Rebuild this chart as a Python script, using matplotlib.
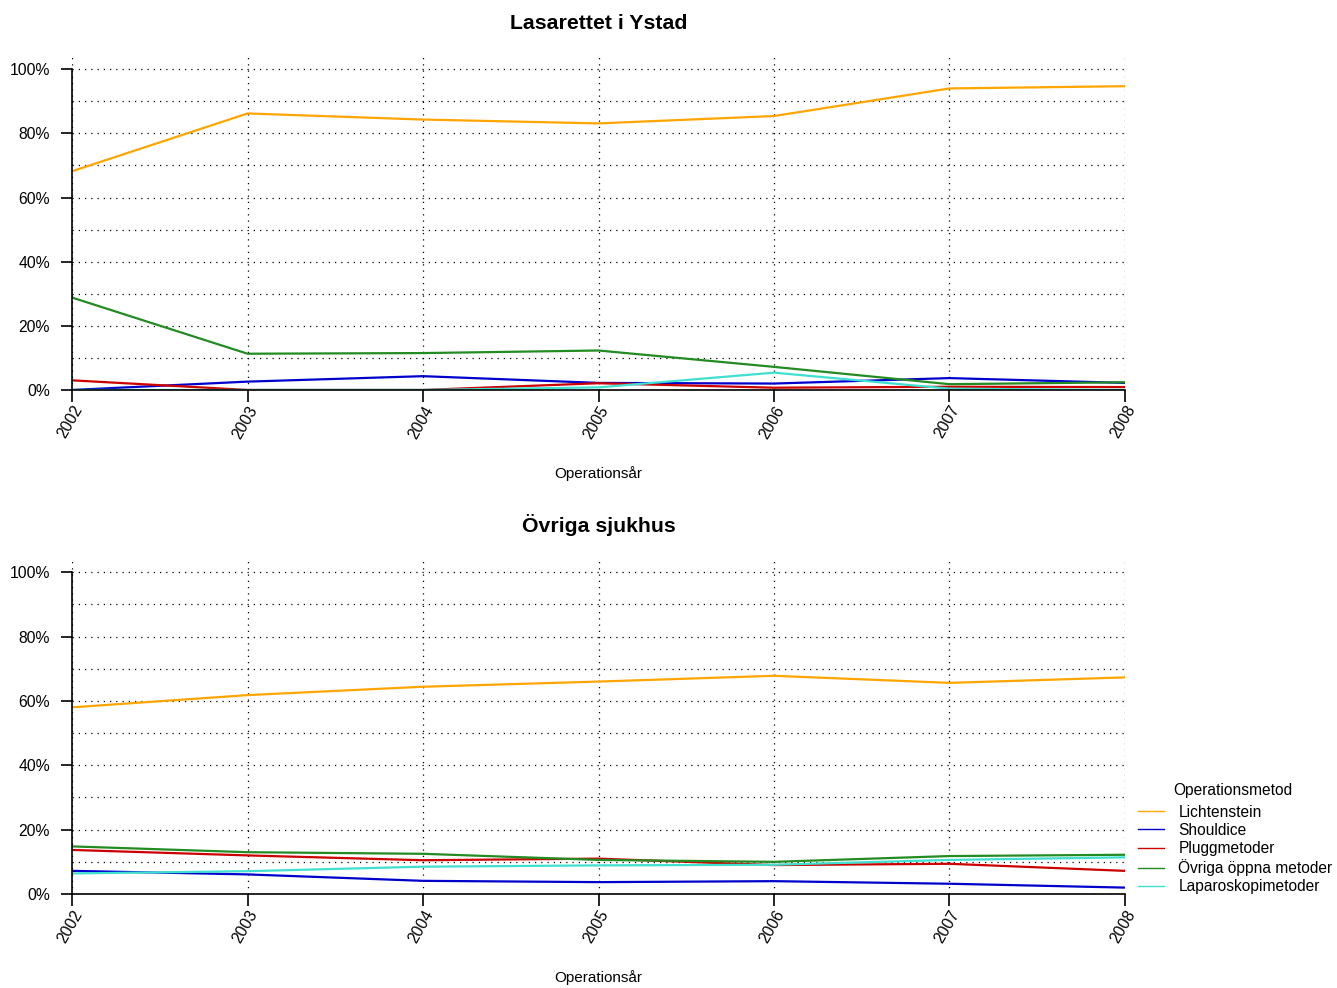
import matplotlib
matplotlib.use('Agg')
import matplotlib.pyplot as plt
from matplotlib.lines import Line2D

# data (percent)
years = [2002, 2003, 2004, 2005, 2006, 2007, 2008]
methods = ['Lichtenstein', 'Shouldice', 'Pluggmetoder', 'Övriga öppna metoder', 'Laparoskopimetoder']
colors = ['#FFA500', '#0000CD', '#CD0000', '#228B22', '#40E0D0']

ystad_lichtenstein = [68.2, 86.2, 84.3, 83.1, 85.4, 94.0, 94.7]
ystad_shouldice = [0.0, 2.6, 4.3, 2.2, 2.0, 3.7, 2.2]
ystad_plugg = [3.0, 0.0, 0.0, 2.1, 0.7, 1.0, 0.9]
ystad_ovriga = [28.8, 11.3, 11.5, 12.3, 7.2, 1.8, 2.4]
ystad_laparo = [0.0, 0.0, 0.0, 0.8, 5.4, 0.4, 0.0]

other_lichtenstein = [58.0, 61.8, 64.4, 66.0, 67.8, 65.6, 67.3]
other_shouldice = [7.2, 6.1, 4.1, 3.7, 4.0, 3.2, 2.0]
other_plugg = [13.7, 12.0, 10.5, 11.0, 9.0, 9.4, 7.2]
other_ovriga = [14.8, 13.0, 12.5, 10.6, 10.0, 11.8, 12.2]
other_laparo = [6.4, 7.1, 8.5, 8.9, 9.1, 10.6, 11.4]

panels = [
    ('Lasarettet i Ystad', [ystad_lichtenstein, ystad_shouldice, ystad_plugg, ystad_ovriga, ystad_laparo]),
    ('Övriga sjukhus', [other_lichtenstein, other_shouldice, other_plugg, other_ovriga, other_laparo]),
]

plt.rcParams['font.family'] = ['Liberation Sans', 'DejaVu Sans']

fig = plt.figure(figsize=(13.37, 9.88), dpi=100)
rects = [[0.0539, 0.6053, 0.7875, 0.3370], [0.0539, 0.0951, 0.7875, 0.3382]]

for rect, (title, series) in zip(rects, panels):
    ax = fig.add_axes(rect)
    # grid first so the lines sit on top
    for v in range(0, 101, 10):
        ax.axhline(v, color='black', lw=0.9, ls=(0, (1, 4)), zorder=1)
    for yr in years:
        ax.axvline(yr, color='black', lw=0.9, ls=(0, (1, 4)), zorder=1)
    for vals, c in zip(series, colors):
        ax.plot(years, vals, color=c, lw=1.6, zorder=2)

    ax.set_xlim(2002, 2008)
    ax.set_ylim(0, 103.8)
    ax.set_yticks([0, 20, 40, 60, 80, 100])
    ax.set_yticklabels(['0%', '20%', '40%', '60%', '80%', '100%'], fontsize=11.3)
    ax.set_xticks(years)
    ax.set_xticklabels([str(y) for y in years], fontsize=11.3, rotation=60,
                       ha='right', va='top', rotation_mode='anchor')
    for s in ['top', 'right']:
        ax.spines[s].set_visible(False)
    ax.spines['left'].set_bounds(0, 100)
    ax.spines['left'].set_linewidth(1.2)
    ax.spines['bottom'].set_linewidth(1.2)
    ax.tick_params(axis='y', length=8, width=1.2, pad=8)
    ax.tick_params(axis='x', length=8.5, width=1.2, pad=1)
    ax.set_title(title, fontsize=15.3, fontweight='bold', pad=20)
    ax.set_xlabel('Operationsår', fontsize=11, labelpad=18)

# legend title drawn separately so the gap under it matches
fig.text(1233 / 1337, 1 - 791 / 988, 'Operationsmetod', fontsize=11.2,
         ha='center', va='center')
handles = [Line2D([], [], color=c, lw=1.0) for c in colors]
leg = fig.legend(handles, methods, loc='upper left',
                 bbox_to_anchor=(0.8512, 0.1855), frameon=False, fontsize=11.2,
                 handlelength=1.7, labelspacing=0.2,
                 handletextpad=0.9, borderaxespad=0, borderpad=0)

fig.savefig('out.png', dpi=100)
